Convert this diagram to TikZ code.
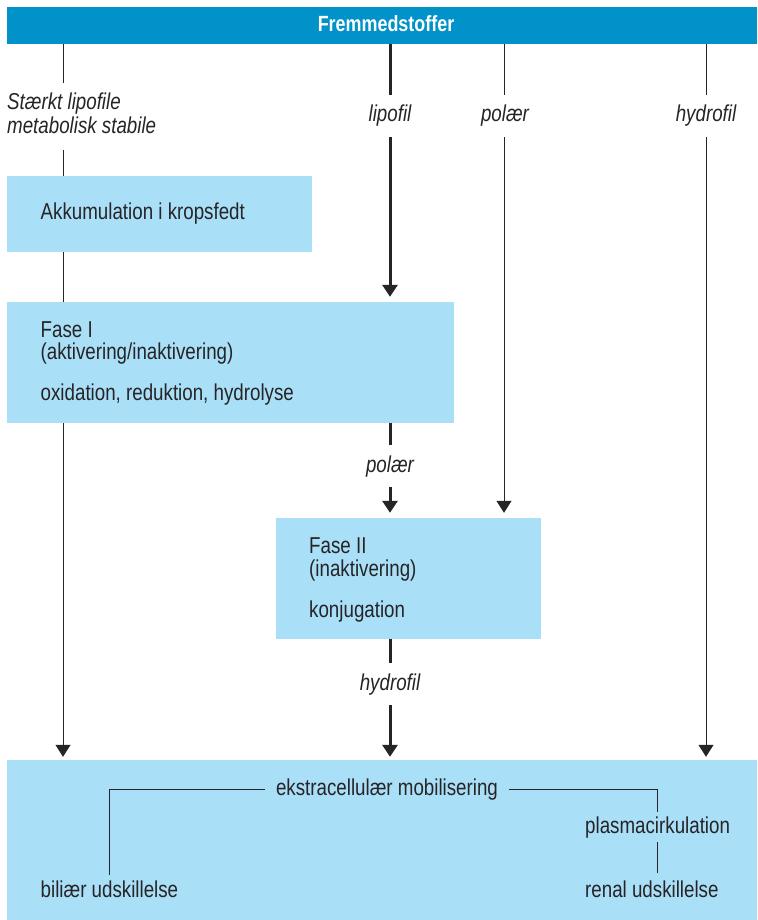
\documentclass[tikz,border=0pt]{standalone}
\usepackage{fontspec}
\setmainfont{Liberation Sans}[FakeStretch=0.815]
\usetikzlibrary{arrows.meta,calc}
\definecolor{barblue}{RGB}{0,146,200}
\definecolor{boxblue}{RGB}{170,223,248}
\definecolor{ink}{RGB}{38,36,38}
\begin{document}
\begin{tikzpicture}[x=1pt,y=-1pt,
  txt/.style={font=\fontsize{23}{27}\selectfont, text=ink, inner sep=0pt, anchor=base west},
  lab/.style={font=\fontsize{23}{27}\selectfont\itshape, text=ink, inner xsep=0pt, inner ysep=10.5pt, anchor=base},
  box/.style={fill=boxblue, draw=none, inner sep=0pt},
  thinln/.style={draw=ink, line width=1pt},
  thickln/.style={draw=ink, line width=3pt},
  tip/.style={-{Triangle[width=15pt,length=12pt]}, shorten >=5pt}
]
\useasboundingbox (0,0) rectangle (757,920);

% boxes
\node[fill=barblue, inner sep=0pt, minimum width=750pt, minimum height=37pt] (bar) at (382,25.5) {};
\node[anchor=base, font=\fontsize{22}{26}\selectfont\bfseries, text=white, inner sep=0pt] (title) at (386,32) {Fremmedstoffer};
\node[box, minimum width=305pt, minimum height=76pt] (box1) at (159.5,214) {};
\node[box, minimum width=447pt, minimum height=121pt] (box2) at (230.5,362.5) {};
\node[box, minimum width=265pt, minimum height=121pt] (box3) at (408.5,578.5) {};
\node[box, minimum width=750pt, minimum height=160pt] (box4) at (382,840) {};

% x positions of the flow lines
\coordinate (xL) at (63,0);
\coordinate (xM) at (390,0);
\coordinate (xP) at (504,0);
\coordinate (xH) at (706,0);

% labels
\node[lab, anchor=base west] (strong1) at (7,110) {Stærkt lipofile};
\node[lab, anchor=base west, inner ysep=16pt] (strong2) at (7,134) {metabolisk stabile};
\node[lab] (lipo) at (390,122) {lipofil};
\node[lab] (poltop) at (505,122) {polær};
\node[lab] (hydtop) at (706,122) {hydrofil};
\node[lab] (polmid) at (390,472) {polær};
\node[lab] (hydmid) at (390,690) {hydrofil};

% box texts
\node[txt] (t1) at (40.5,219.5) {Akkumulation i kropsfedt};
\node[txt] (t2a) at (40.5,337) {Fase I};
\node[txt] (t2b) at (40.5,359) {(aktivering/inaktivering)};
\node[txt] (t2c) at (40.5,400) {oxidation, reduktion, hydrolyse};
\node[txt] (t3a) at (309,553) {Fase II};
\node[txt] (t3b) at (309,576) {(inaktivering)};
\node[txt] (t3c) at (309,617) {konjugation};

\node[txt, anchor=base, inner xsep=11pt, inner ysep=3pt] (ek) at (387,795) {ekstracellulær mobilisering};
\node[txt, inner ysep=5.5pt] (bil) at (40.5,897) {biliær udskillelse};
\node[txt, inner ysep=4.5pt] (plasma) at (585,833) {plasmacirkulation};
\node[txt, inner ysep=7pt] (renal) at (585,897) {renal udskillelse};

% left thin line
\draw[thinln] (bar.south -| xL) -- (strong1.north -| xL);
\draw[thinln] (strong2.south -| xL) -- (box1.north -| xL);
\draw[thinln] (box1.south -| xL) -- (box2.north -| xL);
\draw[thinln, tip, shorten >=3pt] (box2.south -| xL) -- (box4.north -| xL);

% middle thick line
\draw[thickln] (bar.south -| xM) -- (lipo.north);
\draw[thickln, tip] (lipo.south) -- (box2.north -| xM);
\draw[thickln] (box2.south -| xM) -- (polmid.north);
\draw[thickln, tip] (polmid.south) -- (box3.north -| xM);
\draw[thickln] (box3.south -| xM) -- (hydmid.north);
\draw[thickln, tip, shorten >=3pt] (hydmid.south) -- (box4.north -| xM);

% polar thin line
\draw[thinln] (bar.south -| xP) -- (poltop.north -| xP);
\draw[thinln, tip] (poltop.south -| xP) -- (box3.north -| xP);

% hydrofil thin line
\draw[thinln] (bar.south -| xH) -- (hydtop.north);
\draw[thinln, tip, shorten >=3pt] (hydtop.south) -- (box4.north -| xH);

% bottom box connectors
\draw[thinln] (ek.west) -| (bil.north);
\draw[thinln] (ek.east) -| (plasma.north);
\draw[thinln] (plasma.south) -- (plasma.south |- renal.north);
\end{tikzpicture}
\end{document}
